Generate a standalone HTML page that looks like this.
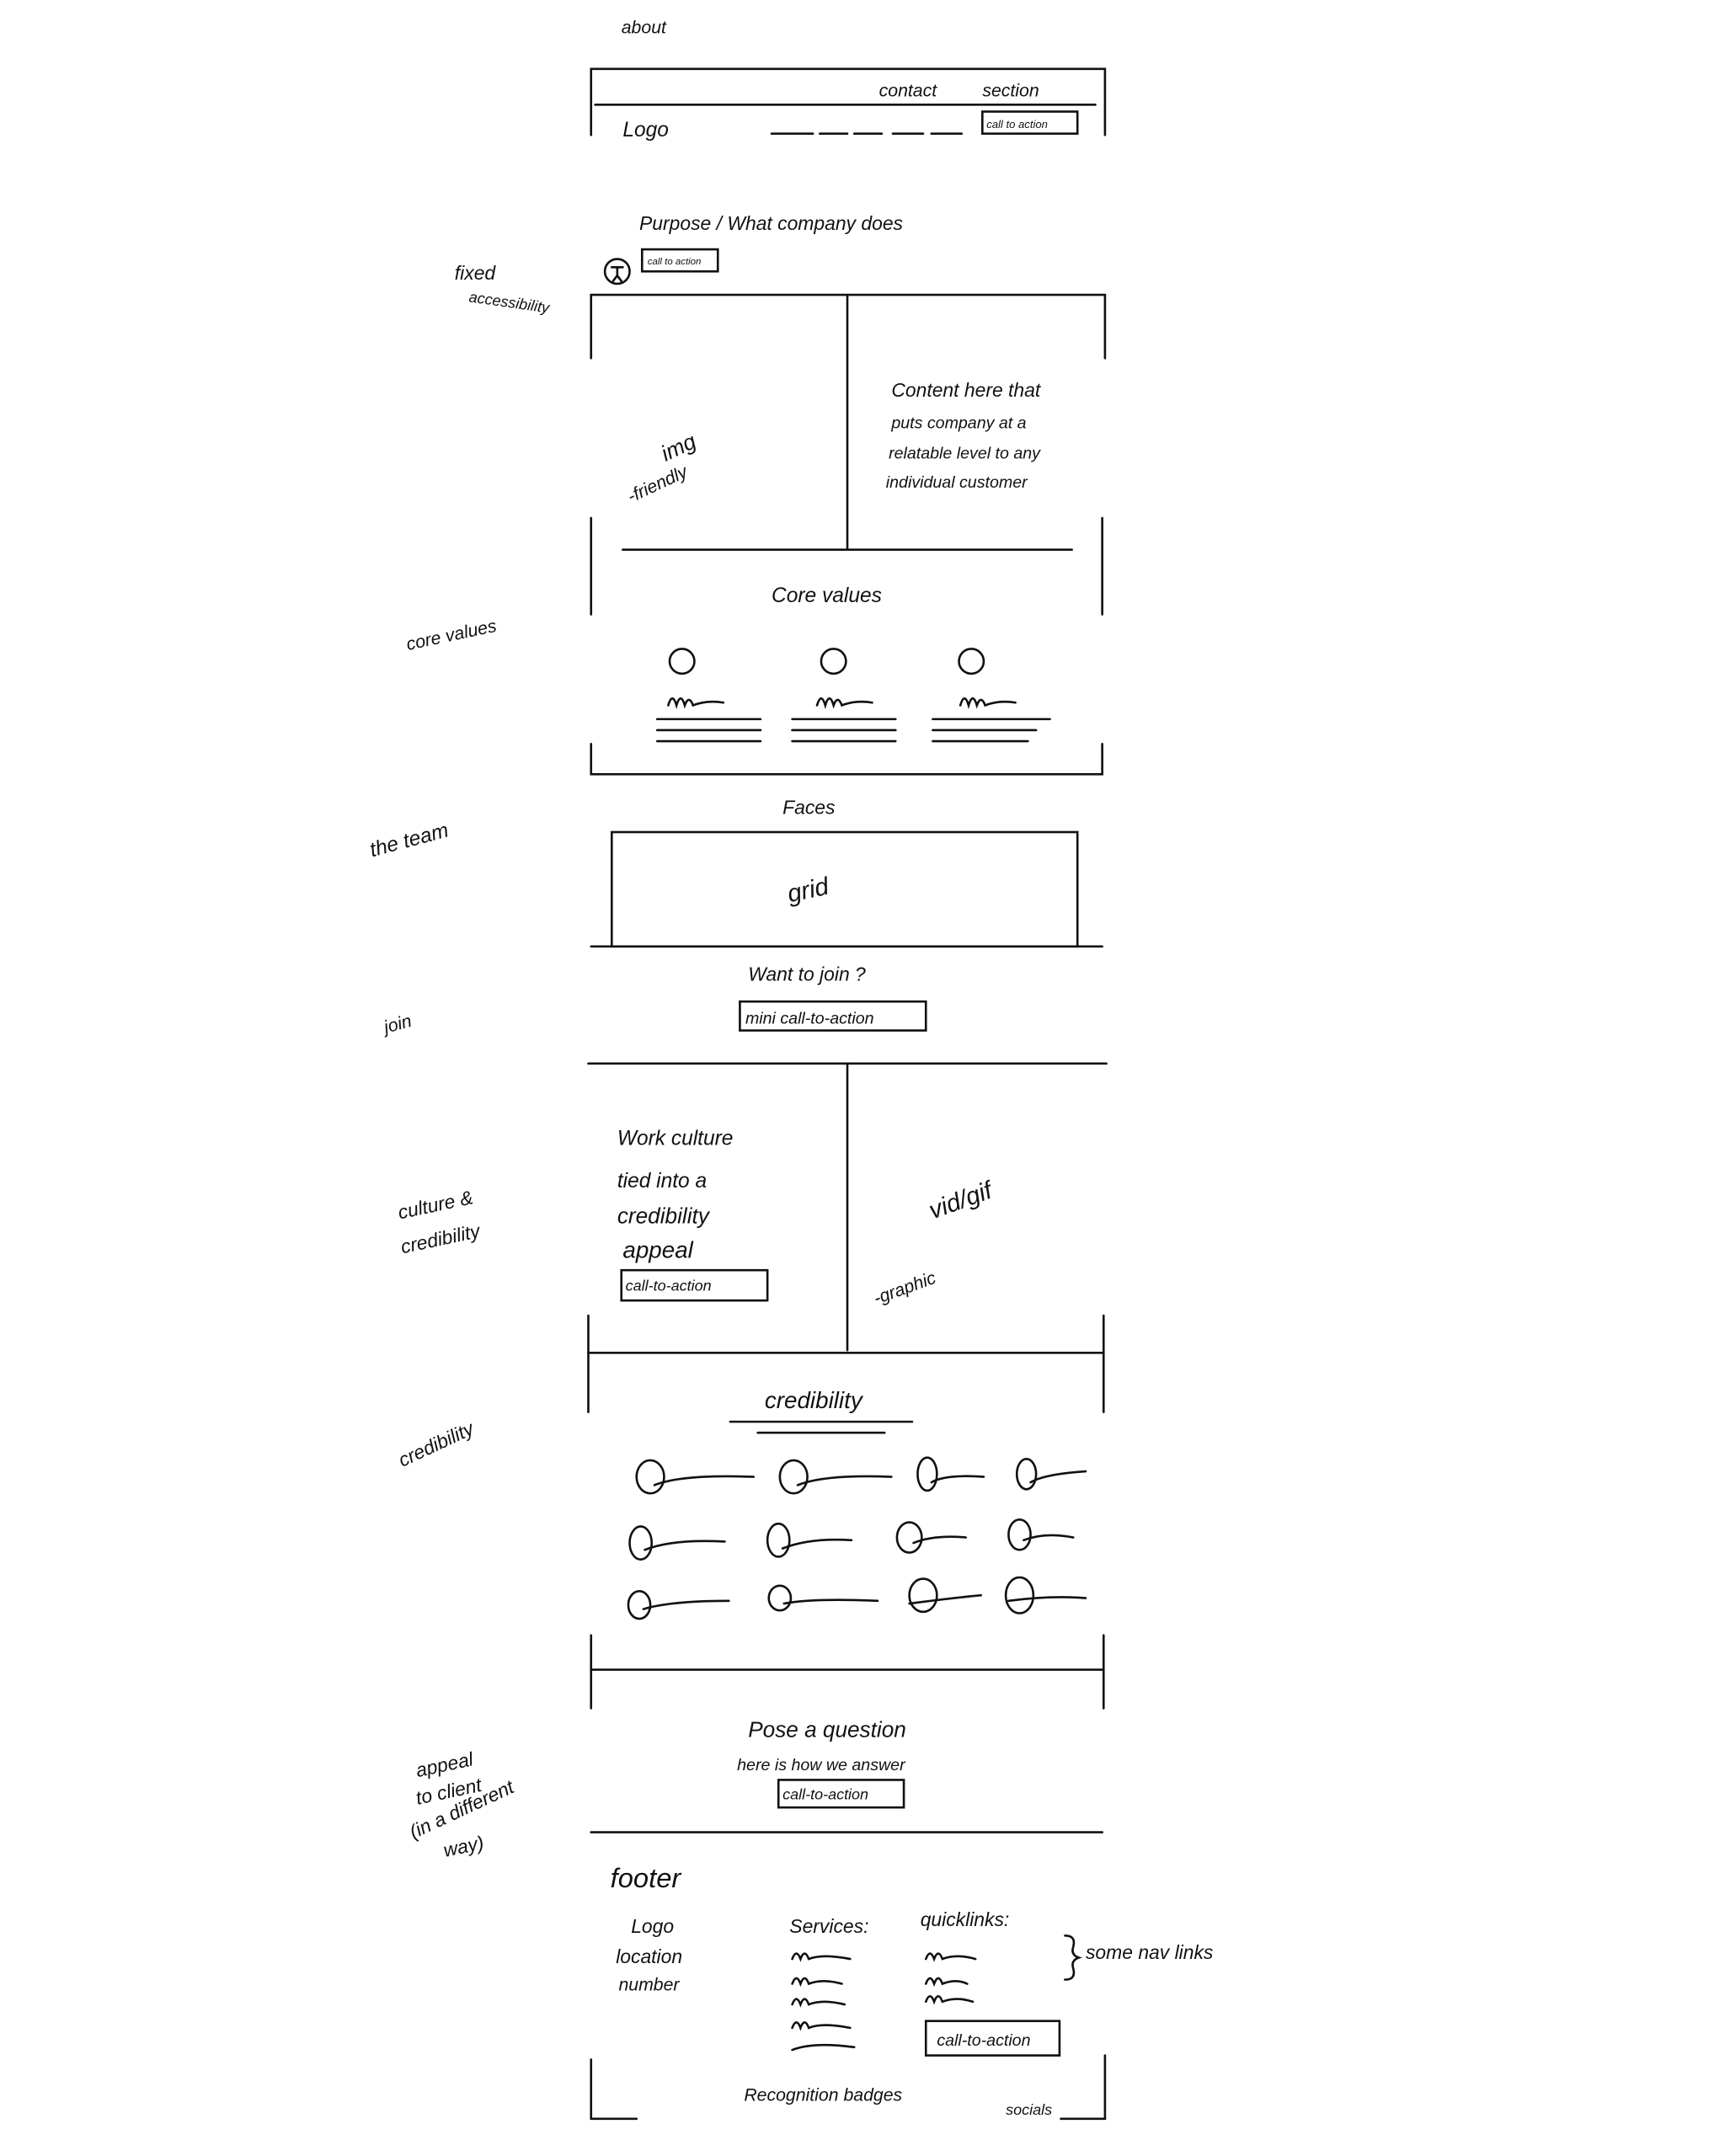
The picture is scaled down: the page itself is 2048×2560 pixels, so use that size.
<!DOCTYPE html>
<html><head><meta charset="utf-8"><style>
html,body{margin:0;padding:0;background:#fff;}
svg{display:block;}
text{font-family:"Liberation Sans",sans-serif;font-style:italic;fill:#111;}
</style></head><body>
<svg width="2048" height="2560" viewBox="0 0 1252 1565" preserveAspectRatio="none" xmlns="http://www.w3.org/2000/svg">
<rect width="1260" height="1570" fill="#fff"/>
<g stroke="#111" stroke-width="1.6" fill="none" stroke-linecap="round">
<path d="M429,98 V50 H802 V98"/>
<line x1="432" y1="76" x2="795" y2="76"/>
<path d="M560,97 H590 M595,97 H615 M620,97 H640 M648,97 H670 M676,97 H698"/>
<rect x="713" y="81" width="69" height="16"/>
<circle cx="448" cy="197" r="9"/>
<path d="M444,194 L452,194 M448,194 L448,200 L445,204 M448,200 L451,204"/>
<rect x="466" y="181" width="55" height="16"/>
<path d="M429,260 V214 H802 V260"/>
<line x1="615" y1="214" x2="615" y2="398"/>
<line x1="452" y1="399" x2="778" y2="399"/>
<line x1="429" y1="376" x2="429" y2="446"/>
<line x1="800" y1="376" x2="800" y2="446"/>
<circle cx="495" cy="480" r="9"/><circle cx="605" cy="480" r="9"/><circle cx="705" cy="480" r="9"/>
<path d="M485,512 q3,-10 6,0 q3,-10 6,0 q3,-8 6,0 q10,-4 22,-2"/>
<path d="M593,512 q3,-10 6,0 q3,-10 6,0 q3,-8 6,0 q10,-4 22,-2"/>
<path d="M697,512 q3,-10 6,0 q3,-10 6,0 q3,-8 6,0 q10,-4 22,-2"/>
<path d="M477,522 H552 M477,530 H552 M477,538 H552"/>
<path d="M575,522 H650 M575,530 H650 M575,538 H650"/>
<path d="M677,522 H762 M677,530 H752 M677,538 H746"/>
<path d="M429,540 V562 H800 V540"/>
<rect x="444" y="604" width="338" height="83"/>
<line x1="429" y1="687" x2="800" y2="687"/>
<rect x="537" y="727" width="135" height="21"/>
<line x1="427" y1="772" x2="803" y2="772"/>
<line x1="615" y1="772" x2="615" y2="980"/>
<rect x="451" y="922" width="106" height="22"/>
<path d="M427,955 V1025 M801,955 V1025"/>
<line x1="427" y1="982" x2="801" y2="982"/>
<line x1="530" y1="1032" x2="662" y2="1032"/>
<line x1="550" y1="1040" x2="642" y2="1040"/>
<ellipse cx="472" cy="1072" rx="10" ry="12"/><path d="M475,1078 q20,-8 72,-6"/>
<ellipse cx="576" cy="1072" rx="10" ry="12"/><path d="M579,1078 q20,-8 68,-6"/>
<ellipse cx="673" cy="1070" rx="7" ry="12"/><path d="M676,1076 q10,-6 38,-4"/>
<ellipse cx="745" cy="1070" rx="7" ry="11"/><path d="M748,1076 q10,-6 40,-8"/>
<ellipse cx="465" cy="1120" rx="8" ry="12"/><path d="M468,1125 q20,-8 58,-6"/>
<ellipse cx="565" cy="1118" rx="8" ry="12"/><path d="M568,1124 q20,-8 50,-6"/>
<ellipse cx="660" cy="1116" rx="9" ry="11"/><path d="M663,1120 q15,-6 38,-4"/>
<ellipse cx="740" cy="1114" rx="8" ry="11"/><path d="M743,1118 q15,-6 36,-2"/>
<ellipse cx="464" cy="1165" rx="8" ry="10"/><path d="M467,1168 q20,-6 62,-6"/>
<ellipse cx="566" cy="1160" rx="8" ry="9"/><path d="M569,1164 q20,-4 68,-2"/>
<ellipse cx="670" cy="1158" rx="10" ry="12"/><path d="M660,1164 q30,-4 52,-6"/>
<ellipse cx="740" cy="1158" rx="10" ry="13"/><path d="M732,1162 q30,-4 56,-2"/>
<path d="M429,1187 V1240 M801,1187 V1240"/>
<line x1="429" y1="1212" x2="801" y2="1212"/>
<rect x="565" y="1292" width="91" height="20"/>
<line x1="429" y1="1330" x2="800" y2="1330"/>
<path d="M575,1422 q3,-8 6,0 q3,-8 6,0 q10,-4 30,0 M575,1440 q3,-8 6,0 q3,-8 6,0 q10,-4 24,0 M575,1455 q3,-8 6,0 q3,-8 6,0 q10,-4 26,0 M575,1472 q3,-8 6,0 q3,-8 6,0 q10,-4 30,0 M575,1488 q15,-6 45,-2"/>
<path d="M672,1422 q3,-8 6,0 q3,-8 6,0 q10,-4 24,0 M672,1440 q3,-8 6,0 q3,-8 6,0 q10,-4 18,0 M672,1453 q3,-8 6,0 q3,-8 6,0 q10,-4 22,0"/>
<path d="M773,1405 q8,0 6,8 q-2,6 4,8 q-6,2 -4,8 q2,8 -6,8"/>
<rect x="672" y="1467" width="97" height="25"/>
<path d="M429,1495 V1538 H462 M802,1492 V1538 H770"/>
</g>
<g font-size="13">
<text x="451" y="24">about</text>
<text x="638" y="70">contact</text>
<text x="713" y="70">section</text>
<text x="452" y="99" font-size="15">Logo</text>
<text x="716" y="93" font-size="8">call to action</text>
<text x="464" y="167" font-size="14">Purpose / What company does</text>
<text x="470" y="192" font-size="7">call to action</text>
<text x="330" y="203" font-size="14">fixed</text>
<text x="340" y="219" font-size="11" transform="rotate(8 340 219)">accessibility</text>
<text x="483" y="335" font-size="16" transform="rotate(-25 483 335)">img</text>
<text x="458" y="365" font-size="13" transform="rotate(-25 458 365)">-friendly</text>
<text x="647" y="288" font-size="14">Content here that</text>
<text x="647" y="311" font-size="12">puts company at a</text>
<text x="645" y="333" font-size="12">relatable level to any</text>
<text x="643" y="354" font-size="12">individual customer</text>
<text x="560" y="437" font-size="15">Core values</text>
<text x="296" y="472" font-size="13" transform="rotate(-12 296 472)">core values</text>
<text x="568" y="591" font-size="14">Faces</text>
<text x="573" y="655" font-size="18" transform="rotate(-12 573 655)">grid</text>
<text x="270" y="622" font-size="15" transform="rotate(-15 270 622)">the team</text>
<text x="543" y="712" font-size="14">Want to join ?</text>
<text x="541" y="743" font-size="12">mini call-to-action</text>
<text x="280" y="750" font-size="13" transform="rotate(-15 280 750)">join</text>
<text x="448" y="831" font-size="15">Work culture</text>
<text x="448" y="862" font-size="15">tied into a</text>
<text x="448" y="888" font-size="16">credibility</text>
<text x="452" y="913" font-size="17">appeal</text>
<text x="454" y="937" font-size="11">call-to-action</text>
<text x="677" y="885" font-size="18" transform="rotate(-20 677 885)">vid/gif</text>
<text x="636" y="947" font-size="13" transform="rotate(-20 636 947)">-graphic</text>
<text x="290" y="885" font-size="14" transform="rotate(-12 290 885)">culture &amp;</text>
<text x="292" y="910" font-size="14" transform="rotate(-12 292 910)">credibility</text>
<text x="555" y="1022" font-size="17">credibility</text>
<text x="292" y="1065" font-size="14" transform="rotate(-25 292 1065)">credibility</text>
<text x="543" y="1261" font-size="16">Pose a question</text>
<text x="535" y="1285" font-size="12">here is how we answer</text>
<text x="568" y="1306" font-size="11">call-to-action</text>
<text x="303" y="1290" font-size="14" transform="rotate(-12 303 1290)">appeal</text>
<text x="303" y="1310" font-size="14" transform="rotate(-12 303 1310)">to client</text>
<text x="300" y="1335" font-size="14" transform="rotate(-25 300 1335)">(in a different</text>
<text x="323" y="1348" font-size="14" transform="rotate(-12 323 1348)">way)</text>
<text x="443" y="1370" font-size="20">footer</text>
<text x="458" y="1403" font-size="14">Logo</text>
<text x="447" y="1425" font-size="14">location</text>
<text x="449" y="1445" font-size="13">number</text>
<text x="573" y="1403" font-size="14">Services:</text>
<text x="668" y="1398" font-size="14">quicklinks:</text>
<text x="788" y="1422" font-size="14">some nav links</text>
<text x="680" y="1485" font-size="12">call-to-action</text>
<text x="540" y="1525" font-size="13">Recognition badges</text>
<text x="730" y="1535" font-size="11">socials</text>
</g>
</svg>
</body></html>
